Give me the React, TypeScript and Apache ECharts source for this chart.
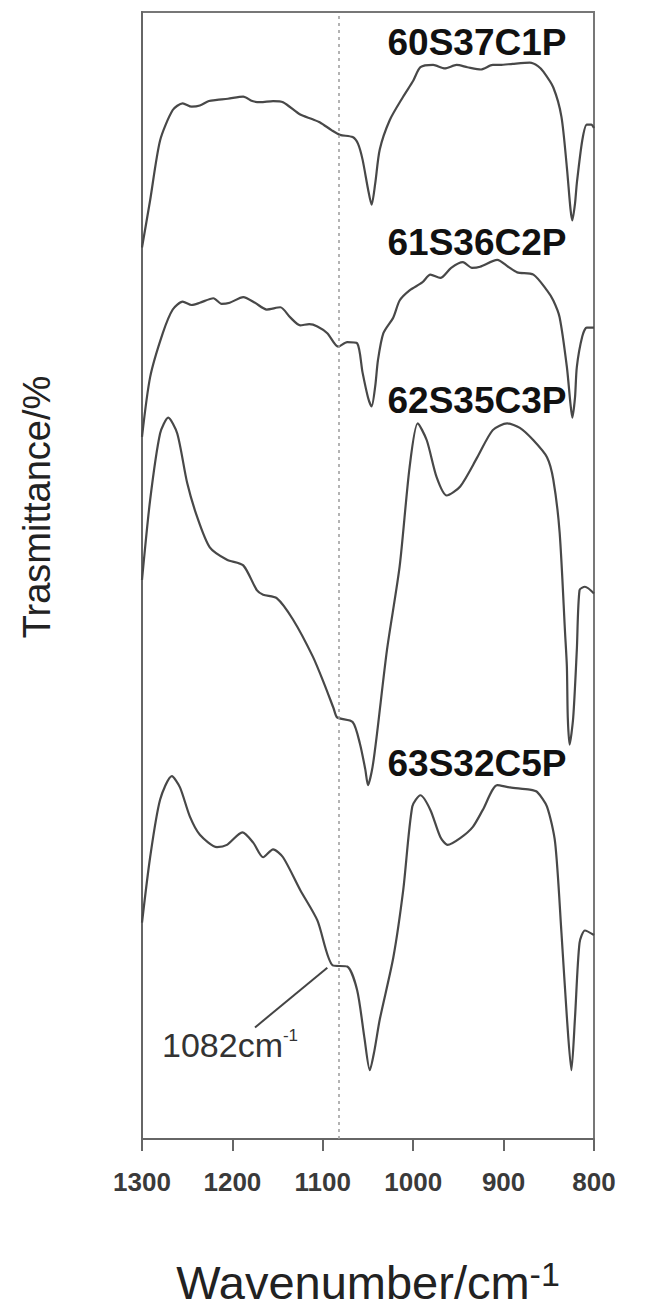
import React, { useEffect, useRef } from "react";
import * as echarts from "echarts";

// Wavenumber (cm-1) vs. transmittance (arbitrary, offset-stacked)
const sampleNames = ["60S37C1P", "61S36C2P", "62S35C3P", "63S32C5P"];

const spectrum60S37C1P: [number, number][] = [
  [1300, 79.1], [1291, 83.3], [1280, 88.6], [1266, 91.3], [1255, 91.9], [1245, 91.6],
  [1236, 91.7], [1226, 92.1], [1217, 92.2], [1205, 92.3], [1188, 92.5], [1178, 92.1],
  [1169, 92.0], [1155, 92.1], [1144, 92.0], [1125, 90.9], [1112, 90.5], [1103, 90.2],
  [1090, 89.5], [1081, 89.1], [1067, 88.9], [1061, 88.3], [1056, 86.9], [1050, 84.3],
  [1046, 82.9], [1042, 84.8], [1037, 87.8], [1026, 90.4], [1011, 92.5], [1000, 93.9],
  [992, 95.1], [978, 95.3], [965, 95.0], [952, 95.3], [940, 95.1], [925, 94.9],
  [912, 95.3], [904, 95.3], [890, 95.4], [871, 95.5], [862, 95.2], [856, 94.7],
  [845, 93.3], [836, 90.7], [830, 86.2], [826, 82.5], [824, 81.5], [821, 83.0],
  [819, 84.8], [813, 88.6], [808, 90.0], [803, 90.0], [800, 89.7]
];

const spectrum61S36C2P: [number, number][] = [
  [1300, 62.3], [1291, 67.6], [1277, 71.5], [1266, 73.6], [1255, 74.3], [1245, 74.0],
  [1236, 74.2], [1221, 74.6], [1212, 74.1], [1203, 74.2], [1188, 74.7], [1175, 74.2],
  [1162, 73.6], [1147, 73.8], [1136, 72.9], [1125, 72.2], [1115, 72.3], [1106, 72.1],
  [1095, 71.5], [1083, 70.3], [1073, 70.7], [1062, 70.6], [1056, 68.0], [1050, 65.8],
  [1046, 65.0], [1042, 66.8], [1039, 69.1], [1033, 71.5], [1022, 72.9], [1015, 74.4],
  [1004, 75.3], [990, 76.0], [981, 76.7], [970, 76.4], [958, 77.3], [945, 77.8],
  [935, 77.3], [926, 77.4], [907, 78.0], [895, 77.4], [885, 76.9], [867, 76.7],
  [852, 75.3], [845, 74.4], [838, 72.9], [830, 68.5], [826, 65.2], [824, 64.0],
  [821, 65.8], [819, 68.5], [813, 71.2], [808, 72.0], [800, 72.0]
];

const spectrum62S35C3P: [number, number][] = [
  [1300, 49.6], [1291, 56.7], [1280, 62.6], [1271, 64.0], [1261, 62.6], [1250, 58.2],
  [1239, 55.2], [1225, 52.5], [1206, 51.4], [1188, 50.9], [1173, 48.7], [1166, 48.3],
  [1151, 48.0], [1133, 46.1], [1111, 42.8], [1098, 40.3], [1088, 38.2], [1084, 37.4],
  [1067, 37.0], [1059, 35.1], [1053, 32.8], [1050, 31.4], [1045, 33.0], [1040, 36.0],
  [1029, 43.4], [1015, 50.8], [1004, 59.6], [995, 63.5], [985, 62.0], [974, 58.7],
  [963, 57.1], [948, 57.9], [929, 60.5], [912, 62.9], [896, 63.5], [882, 63.1],
  [867, 62.0], [852, 60.5], [845, 58.5], [838, 53.8], [832, 44.9], [830, 41.9],
  [829, 37.4], [827, 35.0], [823, 37.4], [819, 43.4], [816, 48.7], [810, 49.0],
  [800, 48.4]
];

const spectrum63S32C5P: [number, number][] = [
  [1300, 19.2], [1291, 25.0], [1280, 30.1], [1267, 32.2], [1258, 31.2], [1247, 28.6],
  [1236, 27.0], [1217, 25.9], [1206, 26.1], [1189, 27.2], [1177, 26.3], [1166, 25.0],
  [1155, 25.7], [1144, 25.0], [1125, 22.1], [1106, 19.4], [1089, 15.4], [1073, 15.3],
  [1062, 13.2], [1054, 9.0], [1048, 6.1], [1043, 7.8], [1037, 10.6], [1022, 16.1],
  [1011, 22.1], [1001, 29.5], [992, 30.5], [981, 29.2], [970, 26.8], [962, 26.1],
  [948, 26.7], [934, 27.7], [923, 29.2], [907, 31.4], [893, 31.2], [871, 31.0],
  [863, 30.8], [852, 29.5], [843, 26.3], [836, 18.3], [830, 10.8], [825, 6.1],
  [821, 10.8], [816, 17.4], [810, 18.5], [800, 18.1]
];

const spectra = [spectrum60S37C1P, spectrum61S36C2P, spectrum62S35C3P, spectrum63S32C5P];

const markedWavenumber = 1082;
const leaderLine: [number, number][] = [[1175, 9.9], [1095, 15.2]];

export default function App() {
  const ref = useRef<HTMLDivElement>(null);

  useEffect(() => {
    document.body.style.margin = "0";
    if (!ref.current) return;
    const chart = echarts.init(ref.current, undefined, { renderer: "svg" });

    const lineColor = "#484848";
    const font = "'Liberation Sans', Arial, sans-serif";
    const series: any[] = spectra.map((data, i) => ({
      name: sampleNames[i],
      type: "line",
      data,
      showSymbol: false,
      smooth: 0.25,
      lineStyle: { color: lineColor, width: 2.2 },
      itemStyle: { color: lineColor },
      z: 3,
      markLine:
        i === 0
          ? {
              silent: true,
              symbol: "none",
              label: { show: false },
              lineStyle: { type: [3, 4], color: "#9a9a9a", width: 1.5 },
              data: [{ xAxis: markedWavenumber }],
            }
          : undefined,
    }));
    series.push({
      name: "leader",
      type: "line",
      data: leaderLine,
      showSymbol: false,
      lineStyle: { color: "#444", width: 2 },
    });

    chart.setOption({
      animation: false,
      backgroundColor: "#ffffff",
      grid: {
        left: 142,
        right: 69,
        top: 12,
        bottom: 172,
        show: true,
        borderColor: "#777",
        borderWidth: 2,
      },
      xAxis: {
        type: "value",
        min: 800,
        max: 1300,
        interval: 100,
        inverse: true,
        axisLine: { show: true, lineStyle: { color: "#666", width: 2 } },
        axisTick: { show: true, length: 12, lineStyle: { color: "#666", width: 2 } },
        splitLine: { show: false },
        axisLabel: {
          margin: 30,
          fontSize: 26,
          fontWeight: "bold",
          color: "#3a3a3a",
          fontFamily: font,
          formatter: (v: number) => String(v),
        },
        name: "{a|Wavenumber/cm}{b|-1}",
        nameLocation: "middle",
        nameGap: 118,
        nameTextStyle: {
          rich: {
            a: { fontSize: 47, lineHeight: 50, color: "#222", fontFamily: font },
            b: { fontSize: 34, lineHeight: 30, color: "#222", verticalAlign: "top", fontFamily: font },
          },
        },
      },
      yAxis: {
        type: "value",
        min: 0,
        max: 100,
        axisLine: { show: true, lineStyle: { color: "#666", width: 2 } },
        axisTick: { show: false },
        axisLabel: { show: false },
        splitLine: { show: false },
      },
      graphic: [
        {
          type: "text",
          x: 37,
          y: 507,
          rotation: Math.PI / 2,
          style: {
            text: "Trasmittance/%",
            fontSize: 38,
            fill: "#222",
            fontFamily: font,
            align: "center",
            verticalAlign: "middle",
          },
        },
        ...sampleNames.map((t, i) => ({
          type: "text",
          x: 477,
          y: [42, 242, 400, 763][i],
          z: 10,
          style: {
            text: t,
            fontSize: 37,
            fontWeight: "bold",
            fontFamily: font,
            fill: "#111",
            align: "center",
            verticalAlign: "middle",
          },
        })),
        {
          type: "text",
          x: 162,
          y: 1045,
          z: 10,
          style: {
            text: "{a|1082cm}{b|-1}",
            align: "left",
            verticalAlign: "middle",
            rich: {
              a: { fontSize: 34, lineHeight: 36, fill: "#333", fontFamily: font },
              b: { fontSize: 17, lineHeight: 18, fill: "#333", verticalAlign: "top", fontFamily: font },
            },
          },
        },
      ],
      series,
    });

    return () => chart.dispose();
  }, []);

  return <div ref={ref} style={{ width: 663, height: 1311 }} />;
}
